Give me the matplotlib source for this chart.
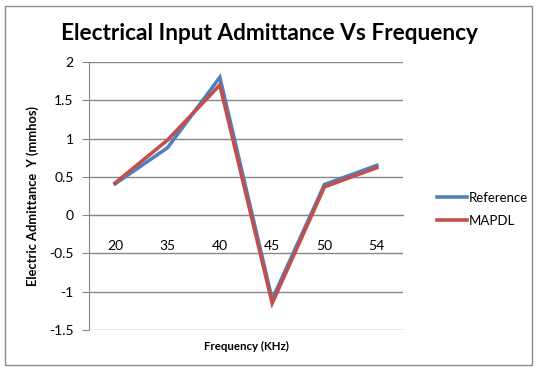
import matplotlib.pyplot as plt
from matplotlib.patches import Rectangle

# frequencies (KHz) and admittance values (mmhos)
freqs = ["20", "35", "40", "45", "50", "54"]
reference = [0.41, 0.88, 1.80, -1.10, 0.40, 0.65]
mapdl = [0.42, 0.98, 1.70, -1.15, 0.37, 0.62]

plt.rcParams['font.family'] = ['Lato', 'DejaVu Sans']

fig = plt.figure(figsize=(5.38, 3.71), dpi=100)
fig.patches.append(Rectangle((5/538, 1 - 365/371), 527/538, 359/371,
                             transform=fig.transFigure, fill=False,
                             edgecolor='#8c8c8c', linewidth=1))

ax = fig.add_axes([89/538, 1 - 330/371, 314/538, 268/371])
x = list(range(len(freqs)))
ax.plot(x, reference, color='#4F81BD', linewidth=2.6, label='Reference',
        solid_joinstyle='miter', zorder=3)
ax.plot(x, mapdl, color='#C0504D', linewidth=2.6, label='MAPDL',
        solid_joinstyle='miter', zorder=4)

ax.set_xlim(-0.5, len(freqs) - 0.5)
ax.set_ylim(-1.5, 2)
ax.set_yticks([-1.5, -1, -0.5, 0, 0.5, 1, 1.5, 2])
ax.set_yticklabels(['-1.5', '-1', '-0.5', '0', '0.5', '1', '1.5', '2'])
ax.yaxis.grid(True, color='#868686', linewidth=1)
ax.set_axisbelow(True)

ax.set_xticks(x)
ax.set_xticklabels(freqs)
ax.spines['bottom'].set_position(('data', 0))
ax.spines['bottom'].set_color('#868686')
ax.spines['top'].set_visible(False)
ax.spines['right'].set_visible(False)
ax.spines['left'].set_color('#868686')
ax.tick_params(axis='x', length=0, pad=18, labelsize=10)
ax.tick_params(axis='y', length=5, color='#868686', labelsize=10, pad=6)

ax.set_xlabel('Frequency (KHz)', fontsize=8.3, fontweight='bold')
ax.xaxis.set_label_coords(0.5, -0.04)
ax.set_ylabel('Electric Admittance  Y (mmhos)', fontsize=9.3, fontweight='bold')
ax.yaxis.set_label_coords(-0.16, 0.5)

fig.suptitle('Electrical Input Admittance Vs Frequency', x=0.5, y=1 - 33/371,
             va='center', fontsize=16.3, fontweight='bold')

ax.legend(loc='center left', bbox_to_anchor=(1.07, 0.45), frameon=False,
          fontsize=9.5, handlelength=2.3, handletextpad=0.1, labelspacing=0.85)

fig.savefig('out.png', dpi=100)
